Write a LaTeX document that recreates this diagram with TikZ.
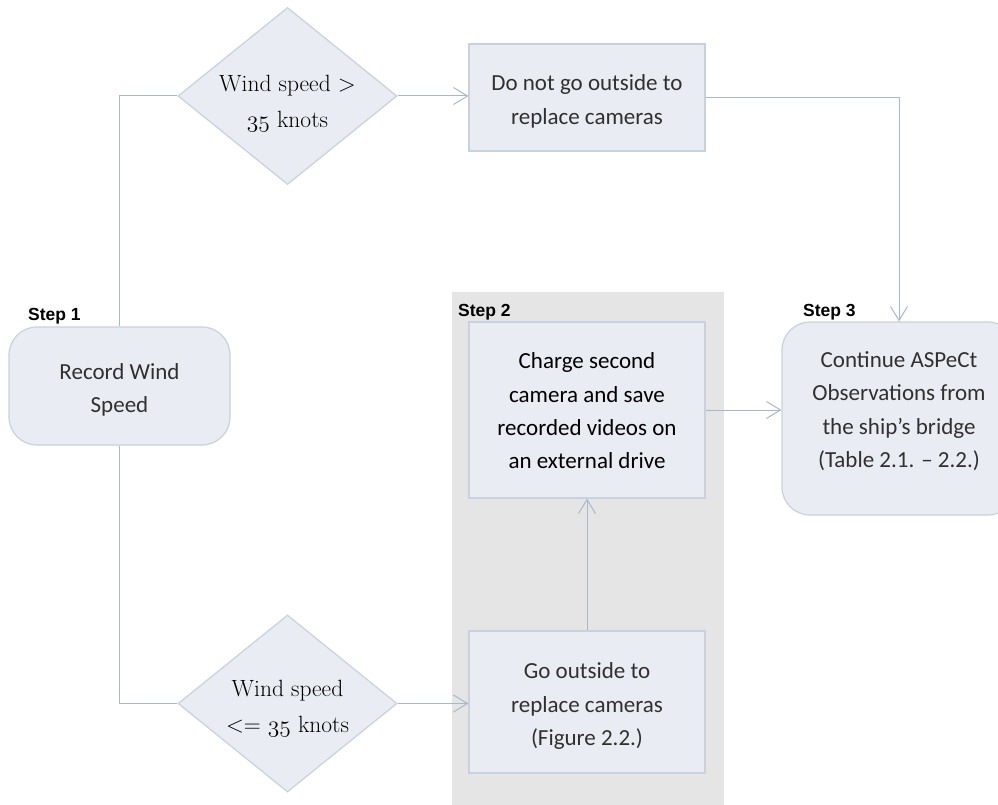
\RequirePackage{fix-cm}
\documentclass[tikz,border=0pt]{standalone}
\usepackage{fontspec}
\setmainfont{Carlito}
\newfontfamily\stepfont{Liberation Sans}
\newfontfamily\garfont{Latin Modern Roman}
\usetikzlibrary{shapes.geometric,arrows.meta}
\definecolor{boxfill}{HTML}{E9ECF2}
\definecolor{boxline}{HTML}{C9D1DF}
\definecolor{connc}{HTML}{A8B7CE}
\definecolor{panelc}{HTML}{E5E5E5}
\definecolor{txt}{HTML}{303030}
\newcommand{\osnum}[1]{{\fontencoding{OML}\fontfamily{cmm}\fontseries{m}\fontshape{it}\selectfont #1}}
\tikzset{
  box/.style={draw=boxline, fill=boxfill, line width=1.2pt, inner sep=0pt},
  rbox/.style={box, rounded corners=28pt},
  btext/.style={inner sep=0pt, align=center, font=\fontsize{23}{33.3}\selectfont, text=txt},
  dia/.style={diamond, draw=boxline, fill=boxfill, line width=1.2pt, inner sep=0pt,
    minimum width=219pt, minimum height=177pt},
  dtext/.style={font=\garfont\fontsize{23.5}{36}\selectfont, align=center, inner sep=0pt, text=black},
  steplbl/.style={font=\stepfont\bfseries\fontsize{17.5}{20}\selectfont, anchor=base west, inner sep=0pt},
  plainline/.style={draw=connc, line width=1pt},
  conn/.style={plainline, -{Straight Barb[length=14pt,width=17pt,line width=1pt]}},
  panelbox/.style={fill=panelc, draw=none, inner sep=0pt, anchor=north west}
}
\begin{document}
\begin{tikzpicture}[x=1pt,y=-1pt]
\useasboundingbox (0,0) rectangle (998,805);
\node[panelbox, minimum width=272pt, minimum height=513pt] (panel) at (452,292) {};

\node[steplbl] (s1l) at (28,320) {Step 1};
\node[steplbl] (s2l) at (458,316) {Step 2};
\node[steplbl] (s3l) at (803,316) {Step 3};

\node[rbox, minimum width=221pt, minimum height=118pt] (rec) at (119.5,386) {};
\node[btext] (rect) at (119.5,390) {Record Wind\\Speed};
\node[dia] (d1) at (287.5,96) {};
\node[dtext] (d1t) at (287.5,104) {Wind speed >\\\osnum{35} knots};
\node[dia] (d2) at (287.5,703.5) {};
\node[dtext] (d2t) at (287.5,709) {Wind speed\\<= \osnum{35} knots};
\node[box, minimum width=236pt, minimum height=107pt] (no) at (587,97.5) {};
\node[btext] (not) at (587,101.5) {Do not go outside to\\replace cameras};
\node[box, minimum width=236pt, minimum height=176pt] (chg) at (587,410) {};
\node[btext, text=black] (chgt) at (587,411) {Charge second\\camera and save\\recorded videos on\\an external drive};
\node[box, minimum width=236pt, minimum height=142pt] (go) at (587,702) {};
\node[btext] (got) at (587,706) {Go outside to\\replace cameras\\(Figure 2.2.)};
\node[rbox, minimum width=234pt, minimum height=193pt] (s3) at (899,418.5) {};
\node[btext] (s3t) at (899,411) {Continue ASPeCt\\Observations from\\the ship’s bridge\\(Table 2.1. – 2.2.)};

\draw[plainline] (rec.north) |- (d1.west);
\draw[plainline] (rec.south) |- (d2.west);
\draw[conn] (d1.east) -- (d1.east -| no.west);
\draw[conn] (no.east) -| (s3.north);
\draw[conn] (d2.east) -- (d2.east -| go.west);
\draw[conn] (go.north) -- (chg.south);
\draw[conn] (chg.east) -- (chg.east -| s3.west);
\end{tikzpicture}
\end{document}
